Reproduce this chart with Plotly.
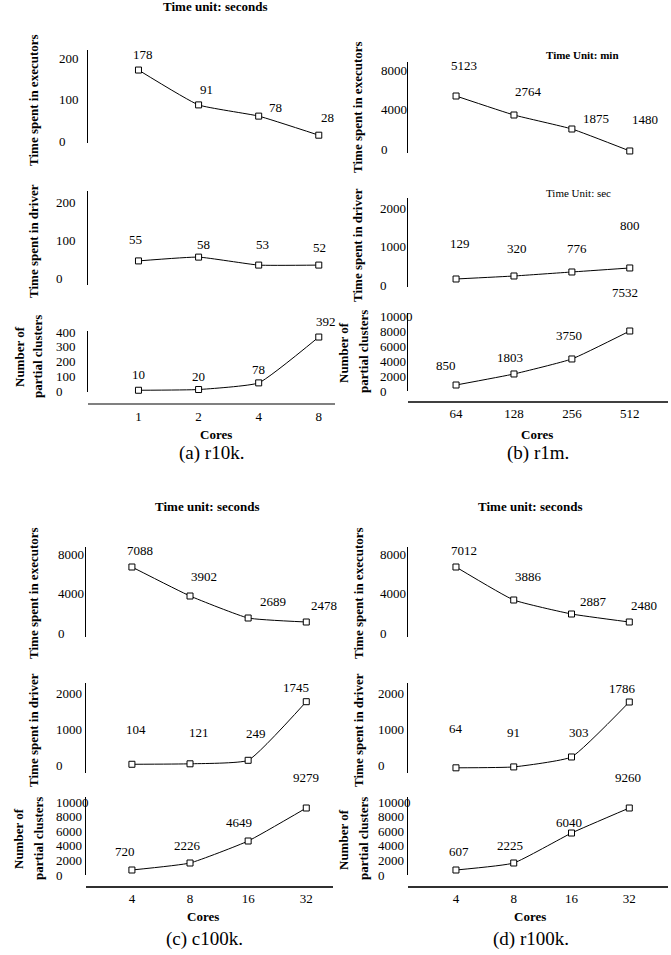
import plotly.graph_objects as go

W, H = 671, 955
FONT = "Liberation Serif"

# ---------------- data ----------------
cores_a = ["1", "2", "4", "8"]
cores_b = ["64", "128", "256", "512"]
cores_c = ["4", "8", "16", "32"]
cores_d = ["4", "8", "16", "32"]

# plotted marker heights (as drawn) and printed value labels
exec_a = [171, 87, 60, 14]
exec_a_lbl = [178, 91, 78, 28]
driver_a = [45, 55, 34, 34]
driver_a_lbl = [55, 58, 53, 52]
part_a = [5, 10, 55, 366]
part_a_lbl = [10, 20, 78, 392]

exec_b = [5367, 3443, 2025, -200]
exec_b_lbl = [5123, 2764, 1875, 1480]
driver_b = [156, 234, 338, 442]
driver_b_lbl = [129, 320, 776, 800]
part_b = [800, 2270, 4270, 8000]
part_b_lbl = [850, 1803, 3750, 7532]

exec_c = [6684, 3747, 1519, 1114]
exec_c_lbl = [7088, 3902, 2689, 2478]
driver_c = [47, 60, 156, 1762]
driver_c_lbl = [104, 121, 249, 1745]
part_c = [685, 1644, 4657, 9178]
part_c_lbl = [720, 2226, 4649, 9279]

exec_d = [6684, 3342, 1924, 1114]
exec_d_lbl = [7012, 3886, 2887, 2480]
driver_d = [-50, -25, 247, 1753]
driver_d_lbl = [64, 91, 303, 1786]
part_d = [685, 1644, 5750, 9178]
part_d_lbl = [607, 2225, 6040, 9260]

ticks_exec_a = [0, 100, 200]
ticks_driver_a = [0, 100, 200]
ticks_part_a = [0, 100, 200, 300, 400]
ticks_exec_big = [0, 4000, 8000]
ticks_driver_big = [0, 1000, 2000]
ticks_part_big = [0, 2000, 4000, 6000, 8000, 10000]

# ---------------- layout config (pixels) ----------------
def xp(px):
    return px / W


def yp(py):
    return 1 - py / H


panels = [
    dict(cores=cores_a, xdom=(88, 335), xrange=(-0.84, 3.27), xline=404,
         xcol="#808080", xw=2, cores_pos=(216, 434), cap="(a) r10k.", cap_pos=(211, 453),
         title_x=33, title2_x=(20, 38),
         sub=[
             dict(vals=exec_a, lbl=exec_a_lbl, ydom=(50, 143), yr=(-4.8, 219.3), ticks=ticks_exec_a,
                  tickx=57, dx=[5, 8, 17, 9], dy=[16, 15, 9, 18],
                  title="Time spent in executors", tc=100),
             dict(vals=driver_a, lbl=driver_a_lbl, ydom=(191, 285), yr=(-18.4, 229), ticks=ticks_driver_a,
                  tickx=54, dx=[-3, 5, 4, 1], dy=[21, 13, 21, 18],
                  title="Time spent in driver", tc=241),
             dict(vals=part_a, lbl=part_a_lbl, ydom=(331, 392), yr=(-6.8, 407), ticks=ticks_part_a,
                  tickx=54, dx=[0, 0, 0, 7], dy=[16, 13, 13, 16],
                  title=None, tc=357),
         ]),
    dict(cores=cores_b, xdom=(408, 668), xrange=(-0.83, 3.66), xline=402,
         xcol="#404040", xw=1.5, cores_pos=(537, 434), cap="(b) r1m.", cap_pos=(538, 453),
         title_x=357, title2_x=(343, 363),
         sub=[
             dict(vals=exec_b, lbl=exec_b_lbl, ydom=(62, 153), yr=(-405, 8810), ticks=ticks_exec_big,
                  tickx=379, dx=[8, 15, 24, 15], dy=[31, 24, 11, 31],
                  title="Time spent in executors", tc=107),
             dict(vals=driver_b, lbl=driver_b_lbl, ydom=(198, 287), yr=(-52, 2260), ticks=ticks_driver_big,
                  tickx=378, dx=[4, 3, 5, 0], dy=[35, 27, 23, 42],
                  title="Time spent in driver", tc=245),
             dict(vals=part_b, lbl=part_b_lbl, ydom=(313, 391), yr=(0, 10400), ticks=ticks_part_big,
                  tickx=378, dx=[-10, -4, -3, -5], dy=[20, 16, 23, 39],
                  title=None, tc=352),
         ]),
    dict(cores=cores_c, xdom=(86, 333), xrange=(-0.79, 3.46), xline=887,
         xcol="#303030", xw=1.5, cores_pos=(203, 916), cap="(c) c100k.", cap_pos=(204, 939),
         title_x=33, title2_x=(18, 38),
         sub=[
             dict(vals=exec_c, lbl=exec_c_lbl, ydom=(547, 637), yr=(-405, 8709), ticks=ticks_exec_big,
                  tickx=56, dx=[8, 14, 25, 18], dy=[17, 20, 17, 17],
                  title="Time spent in executors", tc=593),
             dict(vals=driver_c, lbl=driver_c_lbl, ydom=(683, 773), yr=(-192, 2274), ticks=ticks_driver_big,
                  tickx=54, dx=[4, 9, 8, -10], dy=[35, 31, 27, 14],
                  title="Time spent in driver", tc=730),
             dict(vals=part_c, lbl=part_c_lbl, ydom=(797, 875), yr=(0, 10685), ticks=ticks_part_big,
                  tickx=54, dx=[-7, -3, -9, 0], dy=[19, 18, 19, 31],
                  title=None, tc=839),
         ]),
    dict(cores=cores_d, xdom=(408, 668), xrange=(-0.83, 3.67), xline=887,
         xcol="#303030", xw=1.5, cores_pos=(530, 916), cap="(d) r100k.", cap_pos=(531, 939),
         title_x=358, title2_x=(343, 363),
         sub=[
             dict(vals=exec_d, lbl=exec_d_lbl, ydom=(547, 637), yr=(-405, 8709), ticks=ticks_exec_big,
                  tickx=378, dx=[8, 15, 22, 15], dy=[17, 24, 13, 17],
                  title="Time spent in executors", tc=593),
             dict(vals=driver_d, lbl=driver_d_lbl, ydom=(683, 773), yr=(-192, 2274), ticks=ticks_driver_big,
                  tickx=376, dx=[0, 0, 7, -7], dy=[39, 34, 24, 14],
                  title="Time spent in driver", tc=730),
             dict(vals=part_d, lbl=part_d_lbl, ydom=(797, 875), yr=(0, 10685), ticks=ticks_part_big,
                  tickx=376, dx=[3, -4, -3, -1], dy=[19, 18, 11, 31],
                  title=None, tc=839),
         ]),
]

fig = go.Figure()
layout = dict(
    width=W, height=H, margin=dict(l=0, r=0, t=0, b=0),
    paper_bgcolor="white", plot_bgcolor="white", showlegend=False,
    font=dict(family=FONT, size=13, color="black"),
)
ann = []
yidx = 0
for pi, p in enumerate(panels):
    xname = "x" if pi == 0 else f"x{pi + 1}"
    xkey = "xaxis" if pi == 0 else f"xaxis{pi + 1}"
    for s in p["sub"]:
        yidx += 1
        yname = "y" if yidx == 1 else f"y{yidx}"
        ykey = "yaxis" if yidx == 1 else f"yaxis{yidx}"
        fig.add_trace(go.Scatter(
            x=p["cores"], y=s["vals"], xaxis=xname, yaxis=yname,
            mode="lines+markers", line=dict(color="black", width=1, shape="spline", smoothing=0.4),
            marker=dict(symbol="square", size=6, color="white", line=dict(color="black", width=1)),
            hoverinfo="skip", cliponaxis=False,
        ))
        layout[ykey] = dict(
            domain=[yp(s["ydom"][1]), yp(s["ydom"][0])], range=list(s["yr"]),
            anchor=xname, showline=True, linecolor="black", linewidth=1,
            showgrid=False, zeroline=False, showticklabels=False, ticks="",
        )
        # tick labels
        for t in s["ticks"]:
            ann.append(dict(x=xp(s["tickx"]), xref="paper", y=t, yref=yname, text=str(t),
                            showarrow=False, xanchor="left", yanchor="middle",
                            font=dict(family=FONT, size=13)))
        # value labels
        for i, (c, v, l) in enumerate(zip(p["cores"], s["vals"], s["lbl"])):
            ann.append(dict(x=i, xref=xname, y=v, yref=yname, text=str(l), showarrow=False,
                            xanchor="center", yanchor="middle", xshift=s["dx"][i], yshift=s["dy"][i],
                            font=dict(family=FONT, size=13)))
        # y titles
        if s["title"]:
            ann.append(dict(x=xp(p["title_x"]), y=yp(s["tc"]), xref="paper", yref="paper",
                            text=f"<b>{s['title']}</b>", textangle=-90, showarrow=False,
                            xanchor="center", yanchor="middle", font=dict(family=FONT, size=13)))
        else:
            ann.append(dict(x=xp(p["title2_x"][0]), y=yp(s["tc"]), xref="paper", yref="paper",
                            text="<b>Number of</b>", textangle=-90, showarrow=False,
                            xanchor="center", yanchor="middle", font=dict(family=FONT, size=13)))
            ann.append(dict(x=xp(p["title2_x"][1]), y=yp(s["tc"]), xref="paper", yref="paper",
                            text="<b>partial clusters</b>", textangle=-90, showarrow=False,
                            xanchor="center", yanchor="middle", font=dict(family=FONT, size=13)))
    layout[xkey] = dict(
        type="category", domain=[xp(p["xdom"][0]), xp(p["xdom"][1])], range=list(p["xrange"]),
        anchor="free", position=yp(p["xline"]), showline=True, linecolor=p["xcol"], linewidth=p["xw"],
        showgrid=False, zeroline=False, ticks="", tickfont=dict(family=FONT, size=13),
        categoryorder="array", categoryarray=p["cores"],
    )
    ann.append(dict(x=xp(p["cores_pos"][0]), y=yp(p["cores_pos"][1]), xref="paper", yref="paper",
                    text="<b>Cores</b>", showarrow=False, xanchor="center", yanchor="middle",
                    font=dict(family=FONT, size=13)))
    ann.append(dict(x=xp(p["cap_pos"][0]), y=yp(p["cap_pos"][1]), xref="paper", yref="paper",
                    text=p["cap"], showarrow=False, xanchor="center", yanchor="middle",
                    font=dict(family=FONT, size=19)))

# panel notes
notes = [
    ("<b>Time unit: seconds</b>", 215, 7, 13),
    ("<b>Time Unit: min</b>", 582, 55, 11),
    ("Time Unit: sec", 578, 193, 11),
    ("<b>Time unit: seconds</b>", 207, 506, 13),
    ("<b>Time unit: seconds</b>", 530, 506, 13),
]
for t, x, y, sz in notes:
    ann.append(dict(x=xp(x), y=yp(y), xref="paper", yref="paper", text=t, showarrow=False,
                    xanchor="center", yanchor="middle", font=dict(family=FONT, size=sz)))

layout["annotations"] = ann
fig.update_layout(**layout)
fig.write_html(
    "out.html",
    config={"displayModeBar": False},
    post_script="document.body.style.margin='0';document.body.style.padding='0';"
                "document.body.style.overflow='hidden';",
)
